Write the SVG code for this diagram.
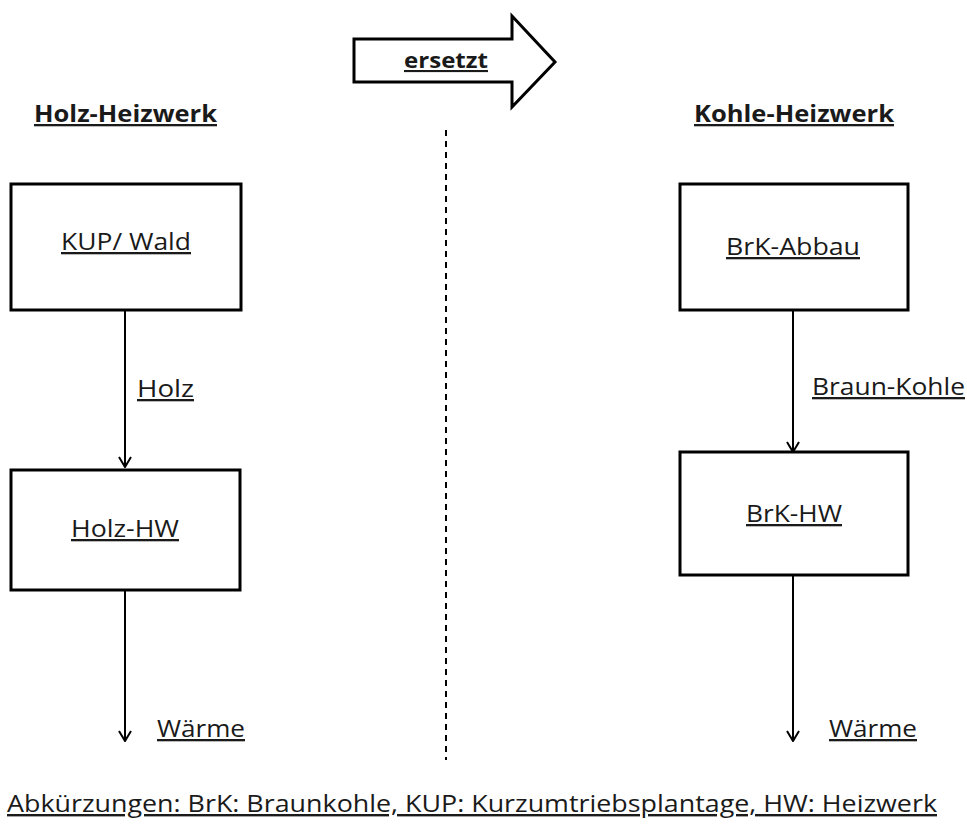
<svg xmlns="http://www.w3.org/2000/svg" width="967" height="828" viewBox="0 0 967 828">
<defs>
<style>
.t{font-family:"Open Sans","Liberation Sans",sans-serif;fill:#1a1a1a;text-decoration:underline;}
.b{font-weight:bold;}
.box{fill:#fff;stroke:#000;stroke-width:3;}
.ln{stroke:#000;stroke-width:2;fill:none;}
</style>
<marker id="ah" viewBox="0 0 12 14" refX="11" refY="7" markerWidth="12" markerHeight="14" markerUnits="userSpaceOnUse" orient="auto">
<path d="M1,1 L11,7 L1,13" fill="none" stroke="#000" stroke-width="2"/>
</marker>
</defs>
<rect width="967" height="828" fill="#fff"/>
<g id="ersetzt">
<polygon points="354,39 512,39 512,16 555,62 512,107 512,82 354,82" fill="#fff" stroke="#000" stroke-width="3"/>
<text class="t b" x="446" y="68" font-size="21" text-anchor="middle" textLength="84" lengthAdjust="spacingAndGlyphs">ersetzt</text>
</g>
<g id="divider">
<line x1="446" y1="130" x2="446" y2="760" stroke="#000" stroke-width="2" stroke-dasharray="6,5"/>
</g>
<g id="title-left"><text class="t b" x="34" y="122" font-size="23" textLength="183" lengthAdjust="spacingAndGlyphs">Holz-Heizwerk</text></g>
<g id="title-right"><text class="t b" x="694" y="122" font-size="23" textLength="200" lengthAdjust="spacingAndGlyphs">Kohle-Heizwerk</text></g>
<g id="connectors">
<line class="ln" x1="125" y1="310" x2="125" y2="467" marker-end="url(#ah)"/>
<line class="ln" x1="125" y1="590" x2="125" y2="741" marker-end="url(#ah)"/>
<line class="ln" x1="793" y1="310" x2="793" y2="452" marker-end="url(#ah)"/>
<line class="ln" x1="793" y1="575" x2="793" y2="741" marker-end="url(#ah)"/>
<text class="t" x="137" y="397" font-size="23" textLength="57" lengthAdjust="spacingAndGlyphs">Holz</text>
<text class="t" x="157" y="737" font-size="23" textLength="88" lengthAdjust="spacingAndGlyphs">Wärme</text>
<text class="t" x="812" y="395" font-size="23" textLength="153" lengthAdjust="spacingAndGlyphs">Braun-Kohle</text>
<text class="t" x="829" y="737" font-size="23" textLength="88" lengthAdjust="spacingAndGlyphs">Wärme</text>
</g>
<g id="kup-wald">
<rect class="box" x="11" y="184" width="230" height="126"/>
<text class="t" x="126" y="250" font-size="23" text-anchor="middle" textLength="130" lengthAdjust="spacingAndGlyphs">KUP/ Wald</text>
</g>
<g id="holz-hw">
<rect class="box" x="11" y="470" width="229" height="120"/>
<text class="t" x="125" y="537" font-size="23" text-anchor="middle" textLength="108" lengthAdjust="spacingAndGlyphs">Holz-HW</text>
</g>
<g id="brk-abbau">
<rect class="box" x="680" y="184" width="228" height="126"/>
<text class="t" x="793" y="255" font-size="23" text-anchor="middle" textLength="134" lengthAdjust="spacingAndGlyphs">BrK-Abbau</text>
</g>
<g id="brk-hw">
<rect class="box" x="680" y="452" width="228" height="123"/>
<text class="t" x="794" y="522" font-size="23" text-anchor="middle" textLength="96" lengthAdjust="spacingAndGlyphs">BrK-HW</text>
</g>
<g id="footer">
<text class="t" x="7" y="812" font-size="24" textLength="930" lengthAdjust="spacingAndGlyphs">Abkürzungen: BrK:  Braunkohle, KUP: Kurzumtriebsplantage, HW: Heizwerk</text>
</g>
</svg>
